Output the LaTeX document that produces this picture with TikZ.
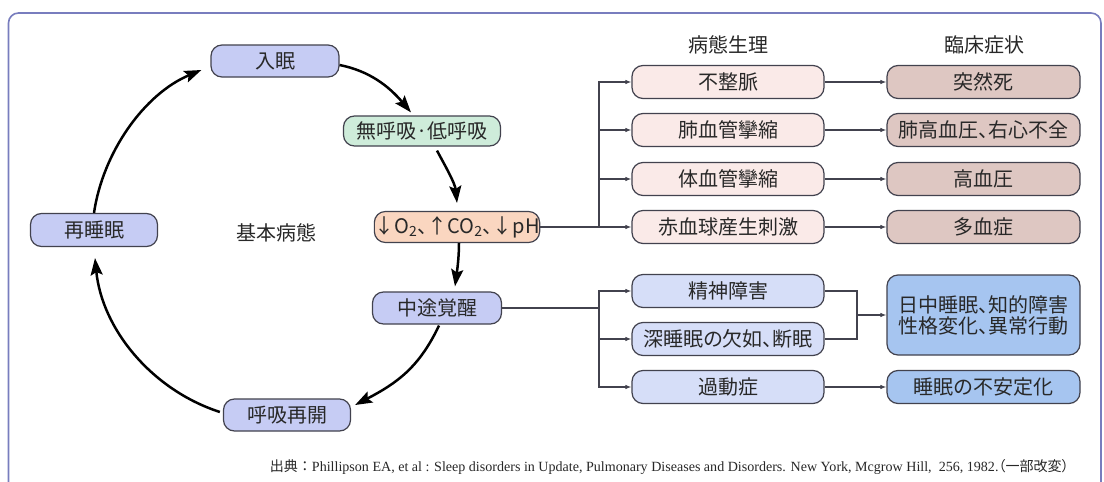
\documentclass[tikz,border=0pt]{standalone}
\usepackage{fontspec}
\setmainfont{Liberation Serif}
\newfontfamily\jp[RawFeature=+palt]{Noto Sans CJK JP}
\newfontfamily\jpfull{Noto Sans CJK JP}
\usetikzlibrary{arrows.meta,calc}
\definecolor{lav}{RGB}{198,204,244}
\definecolor{grn}{RGB}{206,236,218}
\definecolor{org}{RGB}{250,214,192}
\definecolor{pinkL}{RGB}{250,234,232}
\definecolor{pinkD}{RGB}{222,199,194}
\definecolor{blueL}{RGB}{214,222,248}
\definecolor{blueD}{RGB}{166,197,240}
\definecolor{bordc}{RGB}{66,66,78}
\definecolor{txtc}{RGB}{40,40,40}
\definecolor{framec}{RGB}{120,125,190}
\tikzset{
  box/.style={draw=bordc, line width=1.2pt, rounded corners=11pt, minimum height=32pt,
    inner sep=0pt, text=txtc, font=\jp\fontsize{20}{23}\selectfont, align=center},
  midbox/.style={box, minimum width=192pt, minimum height=33pt},
  rbox/.style={box, minimum width=193pt, minimum height=33pt},
  cyc/.style={line width=2.5pt, -{Stealth[length=17pt,width=12pt,inset=3pt]}},
  br/.style={line width=1.1pt, draw=bordc},
  bra/.style={br, -{Latex[length=6pt,width=4.5pt]}},
  hdr/.style={text=txtc, font=\jp\fontsize{20}{23}\selectfont}
}
\begin{document}
\begin{tikzpicture}[x=1pt,y=-1pt]
\useasboundingbox (0,0) rectangle (1104,482);
\fill[white] (0,0) rectangle (1104,482);
\draw[framec, line width=1.6pt, rounded corners=10pt] (8.5,13) rectangle (1101,520);

% cycle nodes
\node[box, fill=lav, minimum width=128pt] (nyumin) at (275,61) {入眠};
\node[box, fill=grn, minimum width=157pt, minimum height=30pt] (muko) at (422,131) {無呼吸·低呼吸};
\node[box, fill=org, minimum width=158pt, minimum height=31pt] (o2) at (457,227) {↓O\textsubscript{2}、↑CO\textsubscript{2}、↓pH};
\node[box, fill=lav, minimum width=129pt] (chuto) at (437,308) {中途覚醒};
\node[box, fill=lav, minimum width=127pt] (kokyu) at (287,415) {呼吸再開};
\node[box, fill=lav, minimum width=127pt, minimum height=33pt] (sai) at (94,230) {再睡眠};
\node[hdr] (kihon) at (276,233) {基本病態};

% headers
\node[hdr] (h1) at (728,45) {病態生理};
\node[hdr] (h2) at (984,45) {臨床症状};

% middle column
\node[midbox, fill=pinkL] (fu) at (728,82) {不整脈};
\node[midbox, fill=pinkL] (hai) at (728,130) {肺血管攣縮};
\node[midbox, fill=pinkL] (tai) at (728,179) {体血管攣縮};
\node[midbox, fill=pinkL] (seki) at (728,227) {赤血球産生刺激};
\node[midbox, fill=blueL] (sei) at (728,291) {精神障害};
\node[midbox, fill=blueL] (shin) at (728,339) {深睡眠の欠如、断眠};
\node[midbox, fill=blueL] (kado) at (728,387) {過動症};

% right column
\node[rbox, fill=pinkD] (tot) at (983.5,82) {突然死};
\node[rbox, fill=pinkD] (haik) at (983.5,130) {肺高血圧、右心不全};
\node[rbox, fill=pinkD] (kou) at (983.5,179) {高血圧};
\node[rbox, fill=pinkD] (ta) at (983.5,227) {多血症};
\node[rbox, fill=blueD, minimum height=80pt] (nichu) at (983.5,315) {日中睡眠、知的障害\\[-2pt]性格変化、異常行動};
\node[rbox, fill=blueD] (fuan) at (983.5,387) {睡眠の不安定化};

% cycle arrows
\draw[cyc] (sai.north) .. controls +(9,-61) and +(-57,24) .. ($(nyumin.west)+(-9,9)$);
\draw[cyc] ($(nyumin.east)+(0,4)$) .. controls +(30,6) and +(-22,-26) .. ($(muko.north)+(-11,-3)$);
\draw[cyc] ($(muko.south)+(15,4)$) .. controls +(8,15) and +(-2,-20) .. ($(o2.north)+(0,-8)$);
\draw[cyc] ($(o2.south)+(2,0)$) .. controls +(0,15) and +(2,-15) .. ($(chuto.north)+(18,-5)$);
\draw[cyc] ($(chuto.south)+(2,1)$) .. controls +(-20,42) and +(42,-22) .. ($(kokyu.east)+(4,-10)$);
\draw[cyc] ($(kokyu.west)+(-3,-3)$) .. controls +(-68,-22) and +(7,71) .. ($(sai.south)+(1,11)$);

% upper branch
\coordinate (j1) at (599,227);
\draw[br] (o2.east) -- (j1);
\draw[bra] (j1) |- (fu.west);
\draw[bra] (j1) |- (hai.west);
\draw[bra] (j1) |- (tai.west);
\draw[bra] (j1) -- (seki.west);
\draw[bra] (fu.east) -- (tot.west);
\draw[bra] (hai.east) -- (haik.west);
\draw[bra] (tai.east) -- (kou.west);
\draw[bra] (seki.east) -- (ta.west);

% lower branch
\coordinate (j2) at (599,308);
\draw[br] (chuto.east) -- (j2);
\draw[bra] (j2) |- (sei.west);
\draw[bra] (j2) |- (shin.west);
\draw[bra] (j2) |- (kado.west);
\coordinate (m) at (857,315);
\draw[br] (sei.east) -| (m);
\draw[br] (shin.east) -| (m);
\draw[bra] (m) -- (nichu.west);
\draw[bra] (kado.east) -- (fuan.west);

% citation
\node[anchor=east, text=txtc, inner sep=0pt] (cite) at (1069,467)
  {\resizebox{799pt}{!}{\fontsize{13}{15}\selectfont{\jpfull 出典：}Phillipson EA, et al : Sleep disorders in Update, Pulmonary Diseases and Disorders. New York, Mcgrow Hill,\ \ 256, 1982.{\jp（一部改変）}}};
\end{tikzpicture}
\end{document}
